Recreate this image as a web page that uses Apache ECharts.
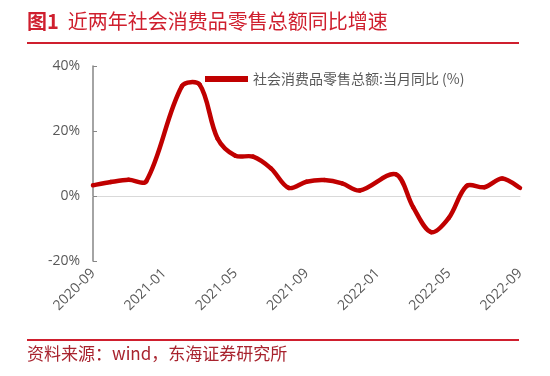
<!DOCTYPE html>
<html>
<head>
<meta charset="utf-8">
<script src="https://cdn.jsdelivr.net/npm/echarts@6/dist/echarts.min.js"></script>
<style>
  html, body { margin: 0; padding: 0; background: #fff; }
  #chart { width: 550px; height: 376px; }
</style>
</head>
<body>
<div id="chart"></div>
<script>
// 月份（2020-09 至 2022-09）
var months = [
  '2020-09', '2020-10', '2020-11', '2020-12',
  '2021-01', '2021-02', '2021-03', '2021-04', '2021-05', '2021-06', '2021-07', '2021-08',
  '2021-09', '2021-10', '2021-11', '2021-12',
  '2022-01', '2022-02', '2022-03', '2022-04', '2022-05', '2022-06', '2022-07', '2022-08', '2022-09'
];
// 社会消费品零售总额:当月同比 (%)，1月无单月数据
var retailYoY = [
  3.3, 4.3, 5.0, 4.6,
  null, 33.8, 34.2, 17.7, 12.4, 12.1, 8.5, 2.5,
  4.4, 4.9, 3.9, 1.7,
  null, 6.7, -3.5, -11.1, -6.7, 3.1, 2.7, 5.4, 2.5
];
var yTicks = [-20, 0, 20, 40];

var seriesName = '社会消费品零售总额:当月同比 (%)';
var cjk = '"Noto Sans CJK SC", "Open Sans", sans-serif';
var lineColor = '#c00000';

// 跳过空值的点 [月份序号, 数值]
var points = [];
retailYoY.forEach(function (v, i) {
  if (v !== null) points.push([i, v]);
});

function dist(a, b) {
  return Math.sqrt((a[0] - b[0]) * (a[0] - b[0]) + (a[1] - b[1]) * (a[1] - b[1]));
}

// 类似 Excel 的平滑曲线（按线段长度加权的贝塞尔）
function renderSmoothLine(params, api) {
  if (params.dataIndex !== 0) return null;
  var pts = points.map(function (p) { return api.coord(p); });
  var t = 1 / 3;
  var children = [];
  for (var k = 0; k < pts.length - 1; k++) {
    var p0 = pts[k - 1] || pts[k];
    var p1 = pts[k];
    var p2 = pts[k + 1];
    var p3 = pts[k + 2] || pts[k + 1];
    var d01 = dist(p0, p1), d12 = dist(p1, p2), d23 = dist(p2, p3);
    var a = t * d12 / ((d01 + d12) || 1) * (k === 0 ? 0.5 : 1);
    var b = t * d12 / ((d12 + d23) || 1) * (k === pts.length - 2 ? 0.5 : 1);
    children.push({
      type: 'bezierCurve',
      shape: {
        x1: p1[0], y1: p1[1],
        cpx1: p1[0] + (p2[0] - p0[0]) * a, cpy1: p1[1] + (p2[1] - p0[1]) * a,
        cpx2: p2[0] - (p3[0] - p1[0]) * b, cpy2: p2[1] - (p3[1] - p1[1]) * b,
        x2: p2[0], y2: p2[1]
      },
      style: { stroke: lineColor, lineWidth: 4.5, fill: null, lineCap: 'round' }
    });
  }
  return { type: 'group', children: children };
}

var chart = echarts.init(document.getElementById('chart'));

var option = {
  backgroundColor: '#ffffff',
  textStyle: { fontFamily: cjk },
  animation: false,
  grid: { left: 93, right: 30, top: 66, bottom: 115 },
  legend: {
    left: 200,
    top: 67,
    itemWidth: 43,
    itemHeight: 6,
    itemGap: 4,
    icon: 'rect',
    textStyle: { color: '#595959', fontSize: 14, fontFamily: cjk },
    data: [seriesName]
  },
  graphic: [
    {
      type: 'text',
      left: 27,
      top: 11,
      style: {
        text: '{b|图1}  近两年社会消费品零售总额同比增速',
        fill: '#cf1f2e',
        font: '20px ' + cjk,
        rich: {
          b: { fill: '#cf1f2e', fontWeight: 'bold', fontSize: 20, fontFamily: cjk }
        }
      }
    },
    {
      type: 'line',
      shape: { x1: 27, y1: 43, x2: 519, y2: 43 },
      style: { stroke: '#cf1f2e', lineWidth: 2 }
    },
    {
      type: 'line',
      shape: { x1: 27, y1: 340, x2: 519, y2: 340 },
      style: { stroke: '#cf1f2e', lineWidth: 2 }
    },
    {
      type: 'text',
      left: 27,
      top: 345,
      style: {
        text: '资料来源：wind，东海证券研究所',
        fill: '#a8232e',
        font: '17px ' + cjk
      }
    }
  ],
  xAxis: {
    type: 'category',
    boundaryGap: false,
    data: months,
    axisLine: { onZero: true, lineStyle: { color: '#d9d9d9', width: 1 } },
    axisTick: { show: false },
    axisLabel: {
      interval: 3,
      rotate: 45,
      margin: 10,
      color: '#595959',
      fontSize: 14,
      fontFamily: '"Open Sans", sans-serif'
    },
    splitLine: { show: false }
  },
  yAxis: {
    type: 'value',
    min: yTicks[0],
    max: yTicks[yTicks.length - 1],
    interval: 20,
    axisLine: { show: true, lineStyle: { color: '#868686', width: 1.5 } },
    axisTick: { show: true, inside: true, length: 4, lineStyle: { color: '#868686' } },
    axisLabel: {
      margin: 13,
      color: '#595959',
      fontSize: 14,
      fontFamily: '"Open Sans", sans-serif',
      formatter: '{value}%'
    },
    splitLine: { show: false }
  },
  series: [
    {
      name: seriesName,
      type: 'custom',
      renderItem: renderSmoothLine,
      itemStyle: { color: lineColor },
      encode: { x: 0, y: 1 },
      data: points
    }
  ]
};

chart.setOption(option);
</script>
</body>
</html>
